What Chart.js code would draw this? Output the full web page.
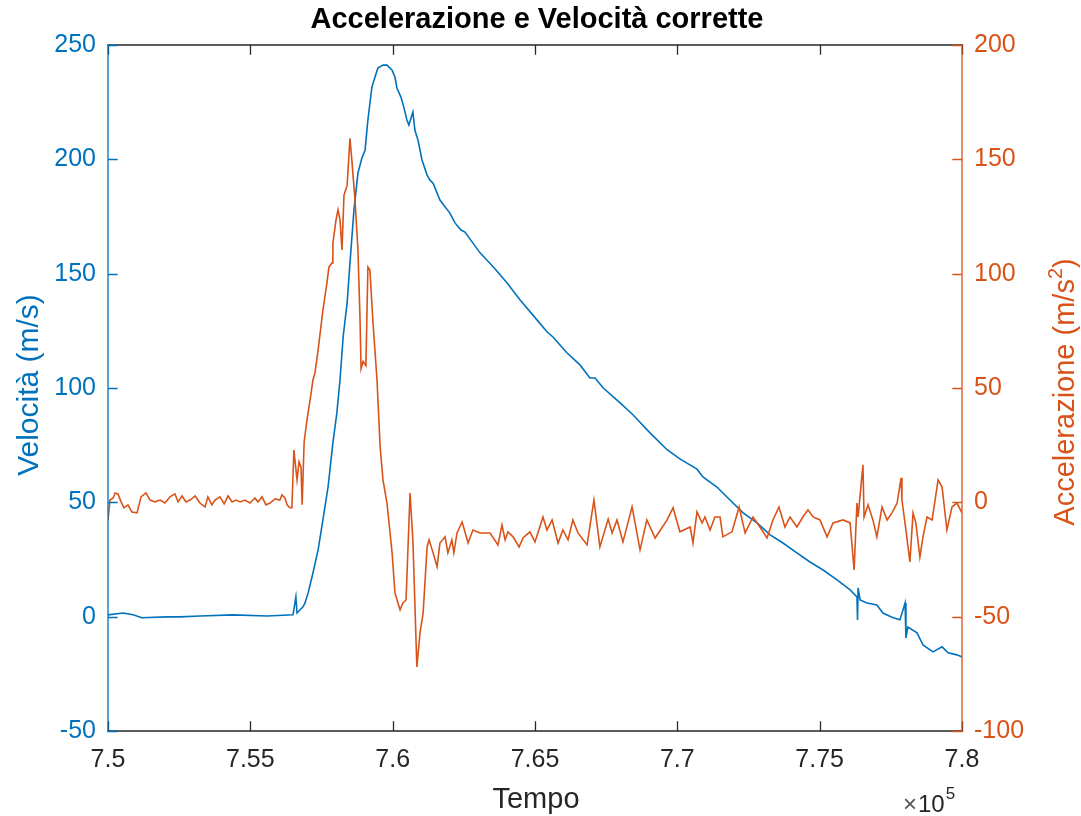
<!DOCTYPE html>
<html>
<head>
<meta charset="utf-8">
<title>Accelerazione e Velocità corrette</title>
<script src="https://cdn.jsdelivr.net/npm/chart.js@4.4.1/dist/chart.umd.min.js"></script>
<style>
  html, body { margin: 0; padding: 0; background: #fff; }
  #box { width: 1081px; height: 816px; }
</style>
</head>
<body>
<div id="box"><canvas id="accvel"></canvas></div>
<script>
// tempi (campioni), in unità dell'asse x (x 10^5 nel tick)
const tempoVel = [750000, 750530, 750880, 751190, 752070, 752530, 753230, 754390, 755590, 756500,
  756600, 756640, 756670, 756740, 756850, 756920, 757030, 757100, 757200, 757380,
  757550, 757730, 757900, 758040, 758150, 758260, 758400, 758500, 758640, 758780,
  758920, 759030, 759130, 759270, 759380, 759480, 759660, 759800, 759980, 760080,
  760150, 760290, 760400, 760500, 760570, 760710, 760780, 760890, 761030, 761210,
  761310, 761420, 761660, 762010, 762190, 762400, 762540, 763070, 763530, 764020,
  764470, 765070, 765420, 765630, 766120, 766580, 766930, 767110, 767390, 767990,
  768440, 769040, 769640, 770090, 770690, 770900, 771390, 771850, 772310, 772800,
  773260, 773710, 774200, 774660, 775120, 775610, 776070, 776310, 776330, 776350,
  776420, 776660, 777010, 777220, 777580, 777820, 778000, 778030, 778100, 778420,
  778630, 778980, 779300, 779510, 779820, 780000];
const velocita = [0.8, 1.6, 0.8, -0.5, -0.1, -0.1, 0.3, 0.8, 0.3, 0.8,
  8.6, 1.6, 1.6, 2.9, 4.3, 6.0, 10.4, 14.0, 19.1, 29.2,
  42.3, 56.7, 76.0, 89.1, 103.5, 122.3, 137.2, 154.7, 177.8, 194.0,
  200.6, 204.0, 217.2, 231.6, 236.0, 239.9, 241.2, 241.2, 239.0, 236.0,
  231.2, 227.2, 222.4, 217.2, 215.0, 220.7, 212.8, 208.4, 199.7, 193.1,
  190.9, 189.6, 182.2, 176.5, 172.2, 169.1, 168.2, 159.1, 153.0, 145.9,
  138.6, 129.8, 124.6, 122.3, 115.4, 110.1, 104.4, 104.4, 100.1, 93.5,
  88.3, 80.4, 73.0, 69.0, 64.5, 61.1, 56.7, 51.0, 45.4, 41.0,
  35.8, 32.2, 27.9, 23.9, 20.4, 16.1, 11.7, 8.6, -1.4, 12.6,
  7.3, 6.0, 5.1, 1.6, -0.5, -1.4, 6.0, -9.3, -4.5, -7.1,
  -12.4, -15.4, -13.2, -15.8, -16.7, -17.6];

const tempoAcc = [750000, 750070, 750180, 750250, 750350, 750460, 750560, 750700, 750840, 751020,
  751160, 751330, 751480, 751650, 751830, 752000, 752180, 752350, 752460, 752600,
  752740, 752880, 753060, 753230, 753410, 753510, 753650, 753760, 753930, 754080,
  754220, 754360, 754500, 754640, 754810, 754990, 755160, 755270, 755410, 755550,
  755690, 755870, 756040, 756110, 756220, 756290, 756390, 756460, 756530, 756640,
  756710, 756780, 756820, 756890, 756990, 757100, 757200, 757270, 757380, 757550,
  757690, 757760, 757870, 757900, 758010, 758080, 758150, 758220, 758290, 758400,
  758500, 758570, 758680, 758780, 758850, 758890, 758960, 759060, 759130, 759200,
  759310, 759450, 759560, 759660, 759800, 759980, 760080, 760260, 760360, 760470,
  760610, 760710, 760850, 760960, 761070, 761210, 761280, 761420, 761560, 761660,
  761840, 761940, 762080, 762150, 762260, 762440, 762650, 762820, 763070, 763420,
  763700, 763840, 763950, 764050, 764230, 764440, 764580, 764820, 765000, 765280,
  765420, 765600, 765810, 765980, 766160, 766330, 766510, 766830, 767070, 767280,
  767570, 767710, 767880, 768090, 768410, 768690, 768930, 769220, 769640, 769850,
  770090, 770450, 770550, 770690, 770870, 770970, 771150, 771320, 771500, 771600,
  771920, 772170, 772380, 772660, 772900, 773150, 773360, 773570, 773780, 773960,
  774200, 774410, 774590, 774770, 775010, 775260, 775470, 775820, 776070, 776210,
  776310, 776350, 776520, 776560, 776700, 776870, 777010, 777190, 777370, 777540,
  777720, 777860, 777890, 778030, 778170, 778280, 778380, 778520, 778630, 778770,
  778950, 779160, 779300, 779470, 779650, 779820, 780000];
const accelerazione = [-7.7, 1.0, 1.9, 4.1, 3.7, 0.2, -2.4, -1.1, -4.2, -4.6,
  2.4, 4.1, 1.0, 0.2, 1.0, -0.3, 2.4, 3.7, 0.2, 2.8,
  0.2, 1.0, 2.8, -0.3, -2.0, 2.4, -1.1, 1.0, 2.4, -0.7,
  2.8, 0.2, 1.0, 0.2, 1.0, -0.3, 1.9, 0.2, 2.4, -1.1,
  -0.3, 1.5, 1.0, 3.2, 1.9, -1.1, -2.4, -2.4, 22.9, 9.8,
  17.7, 15.5, -1.1, 26.4, 36.1, 44.8, 53.5, 56.6, 66.6, 84.1,
  95.9, 102.9, 104.7, 113.4, 123.5, 127.9, 123.5, 110.4, 134.3, 138.6,
  159.2, 149.1, 131.6, 110.4, 81.7, 58.5, 61.6, 59.8, 102.9, 101.6,
  78.4, 53.5, 24.2, 9.8, -0.3, -22.1, -39.6, -47.0, -44.0, -42.7,
  4.1, -16.4, -72.0, -57.1, -48.4, -19.5, -16.4, -22.1, -28.2, -17.8,
  -15.1, -22.1, -16.4, -22.1, -13.4, -8.6, -17.8, -12.1, -13.4, -13.4,
  -18.6, -9.9, -16.4, -12.9, -15.1, -19.5, -15.6, -12.9, -17.3, -6.4,
  -12.1, -7.7, -17.8, -12.1, -16.4, -7.7, -13.4, -18.6, 1.0, -19.5,
  -7.3, -13.4, -7.7, -17.3, -2.0, -20.8, -7.7, -15.6, -7.7, -2.4,
  -12.9, -10.8, -17.8, -4.2, -9.0, -6.4, -12.1, -6.4, -6.4, -15.1,
  -12.9, -2.0, -13.4, -6.4, -10.8, -15.6, -7.7, -2.0, -10.8, -6.4,
  -10.8, -6.4, -3.3, -6.4, -7.7, -15.1, -9.0, -7.7, -9.0, -29.6,
  -0.3, -6.4, 16.4, -6.4, -1.1, -7.7, -15.1, -2.0, -7.7, -4.6,
  -0.3, 10.7, 1.0, -12.1, -26.1, -4.6, -9.0, -23.9, -15.1, -6.4,
  -7.7, 9.8, 6.7, -12.1, -2.0, -0.3, -4.6];

const BLU = '#0072BD';
const ARANCIO = '#D95319';
const GRIGIO = '#262626';
const FONT = '"Liberation Sans", Arial, Helvetica, sans-serif';

// assi stile MATLAB: box, tacche verso l'interno, titoli
const assiMatlab = {
  id: 'assiMatlab',
  afterDatasetsDraw(chart) {
    const {ctx, chartArea: a, scales} = chart;
    const tl = 9;
    ctx.save();
    ctx.lineWidth = 1.3;
    ctx.lineCap = 'square';

    ctx.strokeStyle = GRIGIO;
    ctx.beginPath();
    ctx.moveTo(a.left, a.top); ctx.lineTo(a.right, a.top);
    ctx.moveTo(a.left, a.bottom); ctx.lineTo(a.right, a.bottom);
    scales.x.ticks.forEach(t => {
      const px = Math.round(scales.x.getPixelForValue(t.value)) + 0.5;
      ctx.moveTo(px, a.bottom); ctx.lineTo(px, a.bottom - tl);
      ctx.moveTo(px, a.top); ctx.lineTo(px, a.top + tl);
    });
    ctx.stroke();

    ctx.strokeStyle = BLU;
    ctx.beginPath();
    ctx.moveTo(a.left, a.top); ctx.lineTo(a.left, a.bottom);
    scales.y.ticks.forEach(t => {
      const py = Math.round(scales.y.getPixelForValue(t.value)) + 0.5;
      ctx.moveTo(a.left, py); ctx.lineTo(a.left + tl, py);
    });
    ctx.stroke();

    ctx.strokeStyle = ARANCIO;
    ctx.beginPath();
    ctx.moveTo(a.right, a.top); ctx.lineTo(a.right, a.bottom);
    scales.y1.ticks.forEach(t => {
      const py = Math.round(scales.y1.getPixelForValue(t.value)) + 0.5;
      ctx.moveTo(a.right, py); ctx.lineTo(a.right - tl, py);
    });
    ctx.stroke();
    ctx.restore();
  },
  afterDraw(chart) {
    const {ctx, chartArea: a} = chart;
    const cx = (a.left + a.right) / 2;
    const cy = (a.top + a.bottom) / 2;
    ctx.save();
    ctx.textBaseline = 'middle';
    ctx.textAlign = 'center';

    ctx.fillStyle = '#000';
    ctx.font = 'bold 29px ' + FONT;
    ctx.fillText('Accelerazione e Velocità corrette', cx + 2, 20);

    ctx.fillStyle = GRIGIO;
    ctx.font = '29px ' + FONT;
    ctx.fillText('Tempo', cx + 1, 800);

    // x 10^5
    ctx.textAlign = 'left';
    ctx.textBaseline = 'alphabetic';
    ctx.font = '24px ' + FONT;
    ctx.fillStyle = '#555';
    ctx.fillText('\u00d7', 903, 812);
    const wx = ctx.measureText('\u00d7').width;
    ctx.fillStyle = GRIGIO;
    ctx.fillText('10', 903 + wx + 1, 812);
    const w10 = ctx.measureText('10').width;
    ctx.font = '17px ' + FONT;
    ctx.fillText('5', 903 + wx + 1 + w10 + 1, 799);

    // titolo asse sinistro
    ctx.save();
    ctx.translate(30, cy - 3);
    ctx.rotate(-Math.PI / 2);
    ctx.textAlign = 'center';
    ctx.textBaseline = 'middle';
    ctx.fillStyle = BLU;
    ctx.font = '30px ' + FONT;
    ctx.fillText('Velocità (m/s)', 0, 0);
    ctx.restore();

    // titolo asse destro con esponente
    ctx.save();
    ctx.translate(1066, cy + 4);
    ctx.rotate(-Math.PI / 2);
    ctx.fillStyle = ARANCIO;
    ctx.textBaseline = 'middle';
    ctx.textAlign = 'left';
    ctx.font = '29px ' + FONT;
    const p1 = 'Accelerazione (m/s', p3 = ')';
    const w1 = ctx.measureText(p1).width, w3 = ctx.measureText(p3).width;
    ctx.font = '20px ' + FONT;
    const w2 = ctx.measureText('2').width;
    let x0 = -(w1 + w2 + w3) / 2;
    ctx.font = '29px ' + FONT;
    ctx.fillText(p1, x0, 0);
    ctx.font = '20px ' + FONT;
    ctx.fillText('2', x0 + w1, -10);
    ctx.font = '29px ' + FONT;
    ctx.fillText(p3, x0 + w1 + w2, 0);
    ctx.restore();

    ctx.restore();
  }
};

const tickFont = { family: FONT, size: 25 };

new Chart('accvel', {
  type: 'line',
  data: {
    datasets: [
      {
        label: 'Accelerazione',
        yAxisID: 'y1',
        data: tempoAcc.map((t, i) => ({x: t, y: accelerazione[i]})),
        borderColor: ARANCIO,
        borderWidth: 1.6,
        pointRadius: 0,
        tension: 0,
      },
      {
        label: 'Velocità',
        yAxisID: 'y',
        data: tempoVel.map((t, i) => ({x: t, y: velocita[i]})),
        borderColor: BLU,
        borderWidth: 1.6,
        pointRadius: 0,
        tension: 0,
      },
    ]
  },
  options: {
    responsive: true,
    maintainAspectRatio: false,
    animation: false,
    layout: { padding: { top: 45, left: 0, right: 0, bottom: 0 } },
    plugins: {
      legend: { display: false },
      title: { display: false },
      tooltip: { enabled: false },
    },
    scales: {
      x: {
        type: 'linear',
        min: 750000,
        max: 780000,
        grid: { display: false, drawTicks: false },
        border: { display: false },
        ticks: {
          stepSize: 5000,
          padding: 14,
          maxRotation: 0,
          color: GRIGIO,
          font: tickFont,
          callback: v => String(+(v / 1e5).toFixed(2)),
        },
        afterFit: s => { s.height = 85; },
      },
      y: {
        position: 'left',
        min: -50,
        max: 250,
        grid: { display: false, drawTicks: false },
        border: { display: false },
        ticks: { stepSize: 50, padding: 12, color: BLU, font: tickFont },
        afterFit: s => { s.width = 108; },
      },
      y1: {
        position: 'right',
        min: -100,
        max: 200,
        grid: { display: false, drawTicks: false },
        border: { display: false },
        ticks: { stepSize: 50, padding: 12, color: ARANCIO, font: tickFont },
        afterFit: s => { s.width = 119; },
      },
    }
  },
  plugins: [assiMatlab]
});
</script>
</body>
</html>
